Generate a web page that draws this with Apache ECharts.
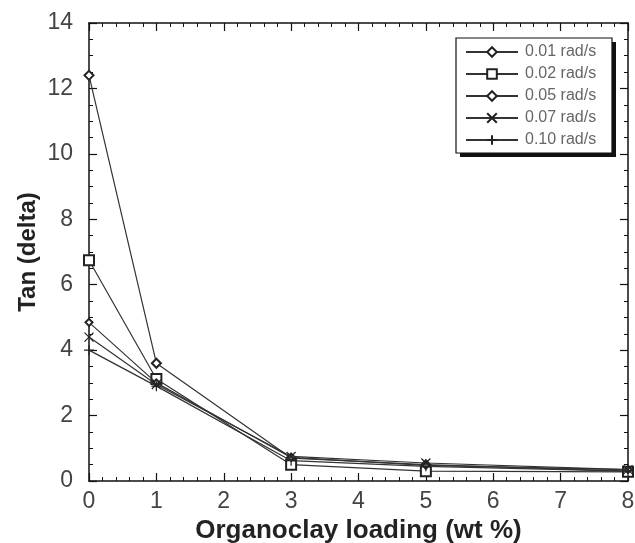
<!DOCTYPE html>
<html>
<head>
<meta charset="utf-8">
<script src="https://cdn.jsdelivr.net/npm/echarts@6/dist/echarts.min.js"></script>
<style>html,body{margin:0;padding:0;background:#fff;}#c{width:635px;height:543px;}</style>
</head>
<body>
<div id="c"></div>
<script>
const xLoading = [0, 1, 3, 5, 8];
const seriesNames = ['0.01 rad/s', '0.02 rad/s', '0.05 rad/s', '0.07 rad/s', '0.10 rad/s'];
const s001 = [12.4, 3.6, 0.70, 0.50, 0.30];
const s002 = [6.75, 3.12, 0.50, 0.30, 0.28];
const s005 = [4.85, 3.00, 0.72, 0.48, 0.35];
const s007 = [4.40, 2.95, 0.75, 0.55, 0.35];
const s010 = [4.00, 2.90, 0.62, 0.45, 0.30];
const xTicks = [0, 1, 2, 3, 4, 5, 6, 7, 8];
const yTicks = [0, 2, 4, 6, 8, 10, 12, 14];

const chart = echarts.init(document.getElementById('c'));
const font = 'Liberation Sans, Arial, sans-serif';
const pair = (vals) => xLoading.map((x, i) => [x, vals[i]]);
const symbols = [
  {symbol: 'emptyDiamond', size: 9},
  {symbol: 'emptyRect', size: 10},
  {symbol: 'emptyDiamond', size: 7},
  {symbol: 'path://M0,0L10,10M10,0L0,10', size: 9},
  {symbol: 'path://M5,0L5,10M0,5L10,5', size: 10}
];
const allVals = [s001, s002, s005, s007, s010];
const axisCommon = {
  axisLine: {show: true, onZero: false, lineStyle: {color: '#111', width: 1.5}},
  axisTick: {show: true, inside: true, length: 8, lineStyle: {color: '#111', width: 1.2}},
  minorTick: {show: true, length: 4, lineStyle: {color: '#111', width: 1}},
  splitLine: {show: false}
};
const series = allVals.map((v, i) => ({
  name: seriesNames[i],
  type: 'line',
  data: pair(v),
  symbol: symbols[i].symbol,
  symbolSize: symbols[i].size,
  showAllSymbol: true,
  lineStyle: {color: '#333', width: 1.2},
  itemStyle: {color: '#222', borderColor: '#222', borderWidth: 1.2},
  emphasis: {disabled: true},
  z: 3 + i
}));
const lgL = 456, lgT = 38, lgW = 156, lgH = 115;
chart.setOption({
  animation: false,
  backgroundColor: '#fff',
  grid: {left: 89, right: 7, top: 23, bottom: 62, outerBoundsMode: 'none', containLabel: false},
  graphic: [
    {type: 'rect', z: 50, shape: {x: lgL + 4, y: lgT + 4, width: lgW, height: lgH}, style: {fill: '#111'}},
    {type: 'rect', z: 51, shape: {x: lgL, y: lgT, width: lgW, height: lgH}, style: {fill: '#fff', stroke: '#111', lineWidth: 1.2}}
  ],
  legend: {
    z: 60,
    orient: 'vertical',
    left: lgL + 4, top: lgT + 6,
    data: seriesNames,
    itemWidth: 52, itemHeight: 12, itemGap: 6,
    padding: [0, 0, 0, 5],
    textStyle: {fontFamily: font, fontSize: 16, color: '#666', padding: [0, 0, 0, 2]}
  },
  xAxis: [
    Object.assign({}, axisCommon, {
      type: 'value', min: 0, max: 8, interval: 1,
      minorTick: Object.assign({}, axisCommon.minorTick, {splitNumber: 5}),
      axisLabel: {fontFamily: font, fontSize: 23, color: '#444', margin: 9,
        formatter: v => xTicks.includes(v) ? String(v) : ''},
      name: 'Organoclay loading (wt %)', nameLocation: 'middle', nameGap: 30,
      nameTextStyle: {fontFamily: font, fontSize: 26, fontWeight: 'bold', color: '#222'}
    }),
    Object.assign({}, axisCommon, {
      type: 'value', min: 0, max: 8, interval: 1, position: 'top',
      minorTick: Object.assign({}, axisCommon.minorTick, {splitNumber: 5}),
      axisLabel: {show: false}
    })
  ],
  yAxis: [
    Object.assign({}, axisCommon, {
      type: 'value', min: 0, max: 14, interval: 2,
      minorTick: Object.assign({}, axisCommon.minorTick, {splitNumber: 4}),
      axisLabel: {fontFamily: font, fontSize: 23, color: '#444', margin: 16,
        formatter: v => yTicks.includes(v) ? String(v) : ''},
      name: 'Tan (delta)', nameLocation: 'middle', nameGap: 49, nameMoveOverlap: false,
      nameTextStyle: {fontFamily: font, fontSize: 24, fontWeight: 'bold', color: '#222'}
    }),
    Object.assign({}, axisCommon, {
      type: 'value', min: 0, max: 14, interval: 2, position: 'right',
      minorTick: Object.assign({}, axisCommon.minorTick, {splitNumber: 4}),
      axisLabel: {show: false}
    })
  ],
  series: series
});
</script>
</body>
</html>
